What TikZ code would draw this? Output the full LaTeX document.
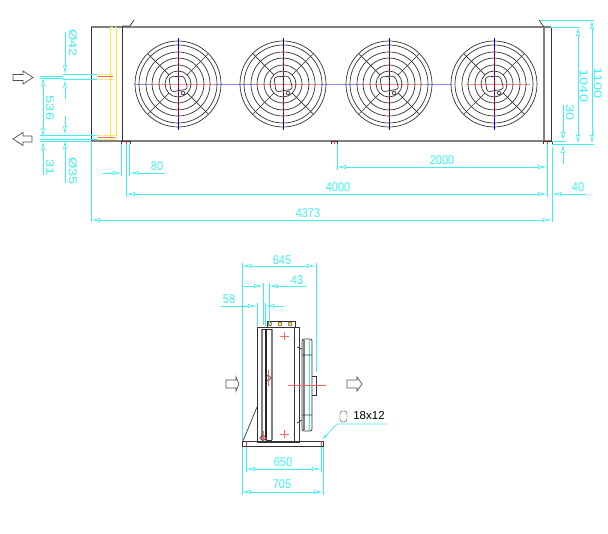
\documentclass[tikz,border=0pt]{standalone}
\usepackage{fontspec}
\setmainfont{Liberation Sans}
\usetikzlibrary{arrows.meta}
\definecolor{dimcyan}{RGB}{64,240,240}
\definecolor{coilyellow}{RGB}{250,230,70}
\tikzset{
    dimtip/.tip={Latex[open,length=9pt,width=4pt]},
    dimline/.style={dimcyan,line width=0.7pt},
    dimboth/.style={dimline,{dimtip}-{dimtip}},
    dimhead/.style={dimline,-{dimtip}},
    dimlabel/.style={text=dimcyan,inner sep=0pt,font=\fontsize{11}{11}\selectfont,yscale=1.15,transform shape},
    dimvert/.style={dimlabel,rotate=-90,yscale=1,xscale=1.15},
    casing/.style={black!80,line width=0.7pt},
    heavy/.style={black!50,line width=1.2pt},
    flowarrow/.style={black!70,line width=0.7pt},
    centerred/.style={red!60,line width=0.8pt}
}
\begin{document}
\begin{tikzpicture}[x=1pt,y=-1pt]
    \useasboundingbox (0,0) rectangle (608,534);
    % front view
    \draw [heavy] (91,27) -- (551,27);
    \draw [heavy] (91,141) -- (551,141);
    \draw [heavy] (544,27) -- (544,141);
    \draw [casing] (91,27) -- (91,141);
    \draw [casing] (122,27) -- (122,141);
    \draw [casing] (551,27) -- (551,141);
    \draw [casing] (122,26) -- (130,26) -- (134,20);
    \draw [casing] (539,20) -- (544,27);
    \draw [casing] (121,144) -- (121,141) -- (130,141) -- (130,144);
    \draw [casing] (331,144) -- (331,141) -- (337,141) -- (337,144);
    \draw [casing] (543,144) -- (543,141) -- (552,141) -- (552,144);
    \foreach \tickx in {126,334,547}
        \draw [red!80] (\tickx,140) -- (\tickx,144);
    % coil header
    \draw [coilyellow] (110,27) -- (110,139) (116,27) -- (116,139);
    \draw [coilyellow,densely dashed] (110,27) -- (116,27);
    \draw [coilyellow,densely dotted] (98,74) -- (113,74) (98,79) -- (113,79);
    \draw [coilyellow,densely dotted] (98,135) -- (115,135) (98,139) -- (115,139);
    \draw [centerred] (98,76.7) -- (113,76.7);
    \draw [centerred] (98,137.6) -- (115,137.6);
    % center lines
    \draw [blue!45,line width=0.8pt] (135,84) -- (452,84);
    \foreach \fanx in {178,283,389,494} {
        \begin{scope}[shift={(\fanx,84)}]
            \draw [red!45,line width=0.8pt] (-28,0) -- (36,0);
            \draw [blue!80!black] (0,-46) -- (0,46);
            \draw [red,densely dashed] (0,-34) -- (0,34);
            \foreach \ring in {13,19,26,32,39,43}
                \draw [casing] (0,0) circle [radius=\ring];
            \foreach \spoke in {45,135,225,315}
                \draw [casing] (\spoke:13) -- (\spoke:43);
            \draw [casing,rounded corners=3pt] (-9,-7) -- (6,-8) -- (10,5) -- (-7,8) -- cycle;
            \draw [casing,rotate around={20:(5,9)}] (3.5,7.5) rectangle (6.5,10.5);
        \end{scope}
    }
    % flow arrows
    \draw [flowarrow] (13,74.5) -- (23,74.5) -- (23,71) -- (33,77.5) -- (23,84) -- (23,80.5) -- (13,80.5) -- cycle;
    \draw [flowarrow] (32,136) -- (23,136) -- (23,132.5) -- (13,139) -- (23,145.5) -- (23,142) -- (32,142) -- cycle;
    % dimensions left
    \draw [dimline] (63,74.5) -- (97,74.5) (63,79.5) -- (97,79.5);
    \draw [dimline] (40,76.5) -- (63,76.5) (40,78) -- (63,78);
    \draw [dimline] (40,135.3) -- (97,135.3) (40,139.7) -- (97,139.7) (40,141) -- (91,141);
    \draw [dimhead] (65,32) -- (65,74.5);
    \draw [dimhead] (65,99) -- (65,79.5);
    \draw [dimhead] (65,116) -- (65,135.3);
    \draw [dimhead] (65,183) -- (65,139.7);
    \draw [dimboth] (43,77) -- (43,137.5);
    \draw [dimhead] (43,175) -- (43,141);
    \node [dimvert] (pipeA) at (73,43) {Ø42};
    \node [dimvert] (pipeB) at (73,171) {Ø35};
    \node [dimvert] (pitchA) at (50,108) {536};
    \node [dimvert] (pitchB) at (50,168) {31};
    % dimensions below
    \draw [dimline] (91,141) -- (91,222);
    \draw [dimline] (121.7,144) -- (121.7,176) (129.7,144) -- (129.7,176);
    \draw [dimline] (126,144) -- (126,197);
    \draw [dimline] (337,144) -- (337,170);
    \draw [dimline] (547,144) -- (547,197) (552,147) -- (552,222);
    \draw [dimhead] (103,173) -- (121.7,173);
    \draw [dimhead] (164,173) -- (129.7,173);
    \draw [dimboth] (337,167) -- (547,167);
    \draw [dimboth] (126,194) -- (547,194);
    \draw [dimhead] (586,194) -- (552,194);
    \draw [dimboth] (91,220) -- (552,220);
    \node [dimlabel] (legA) at (157,166) {80};
    \node [dimlabel] (legB) at (442,160) {2000};
    \node [dimlabel] (legC) at (338,187) {4000};
    \node [dimlabel] (legD) at (578,187) {40};
    \node [dimlabel] (total) at (308,213) {4373};
    % dimensions right
    \draw [dimline] (551,27) -- (580,27) (540,20) -- (594,20);
    \draw [dimline] (552,141) -- (566,141) (552,144) -- (594,144);
    \draw [dimboth] (578,27) -- (578,144);
    \draw [dimboth] (592,20) -- (592,144);
    \draw [dimhead] (563,105) -- (563,141);
    \draw [dimhead] (563,164) -- (563,144);
    \node [dimvert] (heightA) at (584,86) {1040};
    \node [dimvert] (heightB) at (598,83) {1100};
    \node [dimvert] (heightC) at (570,113) {30};
    % side view
    \draw [casing] (257,327) rectangle (299,442);
    \draw [casing] (294,327) -- (294,442);
    \draw [heavy] (262,329) -- (262,440);
    \draw [heavy] (272,329) -- (272,440);
    \draw [black!85,line width=1.3pt] (266,329) -- (266,440);
    \draw [casing] (262,329) -- (272,329) (266,440) -- (272,440);
    \draw [casing] (267,327) -- (267,321) -- (295,321) -- (295,327);
    \foreach \portx in {270,280,290}
        \draw [black!80,fill=coilyellow] (\portx,324) circle [radius=2];
    \draw [casing] (268,378) circle [radius=2.5];
    \draw [casing] (263,438) circle [radius=2.5];
    \draw [centerred] (268,370) -- (268,386) (263,431) -- (263,442) (259,438) -- (267,438);
    \foreach \crossy in {336,434}
        \draw [centerred] (280,\crossy) -- (289,\crossy) (284.5,\crossy-4) -- (284.5,\crossy+4);
    \draw [casing,fill=white,rounded corners=2pt] (302,339) rectangle (312,431);
    \draw [heavy] (304,340) -- (304,430);
    \draw [dimline] (309,340) -- (309,430);
    \draw [casing] (312,376) -- (316,376) -- (316,395) -- (312,395);
    \draw [casing] (297,347) -- (302,349) (302,355) -- (312,355) (302,415) -- (312,415) (297,423) -- (302,420);
    \draw [centerred] (288,385) -- (326,385);
    \draw [casing,line width=0.8pt] (242,441) rectangle (323,446);
    \draw [red!80] (246,441) -- (246,446) (321,441) -- (321,446);
    \draw [casing] (243,441) -- (257,407);
    \draw [flowarrow] (226,380) -- (236,380) -- (236,377) -- (239,384) -- (236,391) -- (236,388) -- (226,388) -- cycle;
    \draw [flowarrow] (347,380) -- (357,380) -- (357,377) -- (362,384) -- (357,391) -- (357,388) -- (347,388) -- cycle;
    % slot leader
    \coordinate (slotEnd) at (322,440);
    \coordinate (slotBend) at (337,424);
    \coordinate (slotTail) at (387,424);
    \draw [dimline,{Latex[length=6pt,width=2.5pt]}-] (slotEnd) -- (slotBend) -- (slotTail);
    \draw [black!80,rounded corners=3pt] (340,411) rectangle (347,422);
    \node [inner sep=0pt,font=\fontsize{11.5}{12}\selectfont] (slotText) at (369,416) {18x12};
    % side view dimensions
    \draw [dimline] (242,263) -- (242,440) (316,263) -- (316,372);
    \draw [dimline] (263,283) -- (263,325) (269,283) -- (269,325);
    \draw [dimline] (257,303) -- (257,326) (265,303) -- (265,326);
    \draw [dimline] (246,447) -- (246,472) (321,447) -- (321,472);
    \draw [dimline] (242,447) -- (242,495) (323,447) -- (323,495);
    \draw [dimboth] (242,266) -- (316,266);
    \draw [dimhead] (244,286) -- (263,286);
    \draw [dimhead] (306,286) -- (269,286);
    \draw [dimhead] (221,306) -- (257,306);
    \draw [dimhead] (284,306) -- (265,306);
    \draw [dimboth] (246,469) -- (321,469);
    \draw [dimboth] (242,492) -- (323,492);
    \node [dimlabel] (sideA) at (282,260) {645};
    \node [dimlabel] (sideB) at (297,280) {43};
    \node [dimlabel] (sideC) at (229,299) {58};
    \node [dimlabel] (sideD) at (283,462) {650};
    \node [dimlabel] (sideE) at (282,484) {705};
\end{tikzpicture}
\end{document}
